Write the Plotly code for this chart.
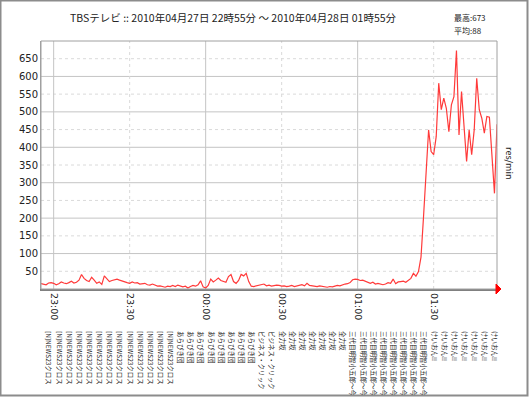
import plotly.graph_objects as go
import pandas as pd

# ---------------- data ----------------
title_text = "TBSテレビ :: 2010年04月27日 22時55分 ～ 2010年04月28日 01時55分"
max_text = "最高:673"
avg_text = "平均:88"
unit_text = "res/min"

start_time = "2010-04-27 22:55"
end_time = "2010-04-28 01:55"

res_per_min = [
    15, 14, 12, 17, 18, 16, 12, 15, 20, 17, 15,
    18, 22, 17, 19, 25, 41, 30, 24, 21, 33,
    25, 16, 20, 13, 37, 28, 21, 24, 26, 28,
    25, 22, 21, 18, 16, 20, 17, 18, 14, 15,
    16, 12, 11, 14, 10, 8, 9, 6, 5, 8,
    7, 10, 7, 11, 9, 6, 8, 3, 7, 10,
    8, 12, 23, 6, 3, 10, 28, 20, 25, 31,
    24, 21, 19, 35, 41, 21, 16, 24, 41, 37,
    44, 21, 8, 7, 9, 10, 12, 14, 9, 11,
    8, 10, 11, 10, 8, 9, 7, 8, 10, 7,
    8, 11, 12, 9, 16, 10, 9, 8, 7, 9,
    8, 6, 5, 7, 6, 8, 10, 9, 12, 14,
    15, 18, 26, 28, 27, 24, 25, 22, 18, 16,
    19, 14, 16, 15, 12, 14, 18, 16, 28, 15,
    20, 21, 22, 19, 24, 30, 44, 36, 49, 90,
    204, 336, 449, 388, 379, 430, 581, 506, 539, 510,
    444, 520, 543, 673, 435, 557, 449, 360, 449, 379,
    449, 595, 506, 482, 440, 487, 485, 364, 270, 465,
]

time_ticks = ["2010-04-27 23:00", "2010-04-27 23:30", "2010-04-28 00:00",
              "2010-04-28 00:30", "2010-04-28 01:00", "2010-04-28 01:30"]
time_tick_text = ["23:00", "23:30", "00:00", "00:30", "01:00", "01:30"]

y_ticks = [50, 100, 150, 200, 250, 300, 350, 400, 450, 500, 550, 600, 650]

program_names = ["[N]NEWS23クロス", "あらびき団", "ビジネス・クリック",
                 "全力坂", "三代目明智小五郎～今", "けいおん!!"]
program_label_counts = [13, 8, 2, 7, 8, 7]

# ---------------- build ----------------
times = pd.date_range(start_time, periods=len(res_per_min), freq="1min")


def em_width(s):
    w = 0.0
    for ch in s:
        if ord(ch) > 0x2000:
            w += 1.0
        elif ch in "[]!":
            w += 0.33
        else:
            w += 0.65
    return w


def pad_label(s, target=10):
    # rotated tick labels are centred on their length; pad so all share one length
    n = max(0, int(round(target - em_width(s))))
    return s + "\u3000" * n


label_times, label_texts = [], []
t = pd.Timestamp(start_time) + pd.Timedelta(minutes=3)
for name, cnt in zip(program_names, program_label_counts):
    for _ in range(cnt):
        label_times.append(t.strftime("%Y-%m-%d %H:%M"))
        label_texts.append(pad_label(name))
        t = t + pd.Timedelta(minutes=4)

W, H = 529, 397
L, R, T, B = 41, 497, 41, 289   # plot area in pixels
PB = 330                         # bottom of paper (program label axis)


def px(xp):
    return (xp - L) / (R - L)


def py(yp):
    return (PB - yp) / (PB - T)


fig = go.Figure()
fig.add_trace(go.Scatter(x=times, y=res_per_min, mode="lines",
                         line=dict(color="#ff3a3a", width=1.2),
                         hoverinfo="x+y", showlegend=False))
# helper trace that puts the programme axis into use (draws nothing)
fig.add_trace(go.Scatter(x=label_times, y=[None] * len(label_times), xaxis="x2",
                         mode="markers", hoverinfo="skip", showlegend=False))

shapes = []
for v in y_ticks:
    solid = v % 100 == 0
    shapes.append(dict(type="line", xref="x domain", x0=0, x1=1, yref="y", y0=v, y1=v,
                       line=dict(color="#c4c4c4" if solid else "#dadada",
                                 width=1, dash="solid" if solid else "dot"),
                       layer="below"))
for tt, lab in zip(time_ticks, time_tick_text):
    solid = lab.endswith(":00")
    shapes.append(dict(type="line", yref="y domain", y0=0, y1=1, xref="x", x0=tt, x1=tt,
                       line=dict(color="#c4c4c4" if solid else "#dadada", width=1,
                                 dash="solid" if solid else "dot"),
                       layer="below"))
# plot frame
shapes.append(dict(type="rect", xref="x domain", yref="y domain", x0=0, x1=1, y0=0, y1=1,
                   line=dict(color="#a0a0a0", width=1), layer="above"))
# red arrow at the end of the x axis
shapes.append(dict(type="path", xref="x domain", yref="y domain", xsizemode="pixel",
                   ysizemode="pixel", xanchor=1, yanchor=0,
                   path="M -1,5 L 4,0 L -1,-5 Z",
                   fillcolor="#ff0000", line=dict(color="#ff0000", width=1)))
# outer frame
shapes.append(dict(type="rect", xref="paper", yref="paper",
                   x0=px(0.5), x1=px(W - 1.5), y0=py(H - 1.5), y1=py(0.5),
                   line=dict(color="#8c8c8c", width=2)))

font_family = "Noto Sans CJK JP, DejaVu Sans, sans-serif"
annotations = [
    dict(text=title_text, xref="paper", yref="paper", x=px(233), y=py(18),
         xanchor="center", yanchor="middle", showarrow=False,
         font=dict(size=10.5, color="#222")),
    dict(text=max_text, xref="paper", yref="paper", x=px(452), y=py(18),
         xanchor="left", yanchor="middle", showarrow=False,
         font=dict(size=8, color="#222")),
    dict(text=avg_text, xref="paper", yref="paper", x=px(452), y=py(30),
         xanchor="left", yanchor="middle", showarrow=False,
         font=dict(size=8, color="#222")),
    dict(text=unit_text, xref="paper", yref="paper", x=px(510), y=py(163),
         xanchor="center", yanchor="middle", showarrow=False, textangle=90,
         font=dict(size=9, color="#222")),
]

fig.update_layout(
    width=W, height=H, autosize=False,
    margin=dict(l=L, r=W - R, t=T, b=H - PB, pad=0, autoexpand=False),
    paper_bgcolor="white", plot_bgcolor="white",
    font=dict(family=font_family, size=10, color="#222"),
    shapes=shapes, annotations=annotations,
    xaxis=dict(range=[start_time, end_time], tickvals=time_ticks,
               ticktext=time_tick_text, tickangle=90, showgrid=False,
               zeroline=False, showline=True, linecolor="#808080", linewidth=2,
               ticks="", automargin=False,
               tickfont=dict(size=9.5, color="#222",
                             family="DejaVu Sans, sans-serif")),
    xaxis2=dict(overlaying="x", anchor="free", position=0, side="bottom",
                type="date", range=[start_time, end_time], tickmode="array",
                tickvals=label_times, ticktext=label_texts, tickangle=90,
                showgrid=False, zeroline=False, showline=False, ticks="",
                showticklabels=True, automargin=False,
                tickfont=dict(size=6.5, color="#222",
                              family="Noto Sans CJK JP, DejaVu Sans")),
    yaxis=dict(range=[0, 700], domain=[py(B), 1], tickvals=y_ticks, showgrid=False,
               zeroline=False, showline=True, linecolor="#a0a0a0", linewidth=1,
               ticks="", automargin=False,
               tickfont=dict(size=10, color="#222",
                             family="DejaVu Sans, sans-serif")),
)

fig.write_html("out.html", config={"displayModeBar": False},
               post_script="document.body.style.margin='0';")
